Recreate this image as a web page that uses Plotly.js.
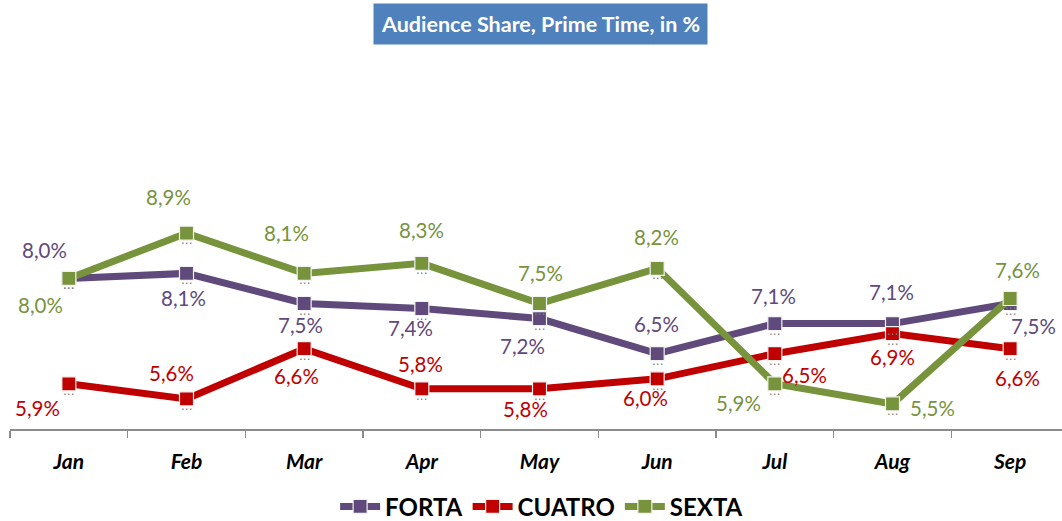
<!DOCTYPE html>
<html>
<head>
<meta charset="utf-8">
<script src="https://cdn.plot.ly/plotly-3.0.1.min.js"></script>
<style>
html,body{margin:0;padding:0;overflow:hidden;background:#fff;}
#chart{width:1069px;height:521px;}
</style>
</head>
<body>
<div id="chart"></div>
<script>
// ---- data ----
const months = ['Jan','Feb','Mar','Apr','May','Jun','Jul','Aug','Sep'];
const seriesNames = ['FORTA','CUATRO','SEXTA'];
const forta  = [8.0, 8.1, 7.5, 7.4, 7.2, 6.5, 7.1, 7.1, 7.5];
const cuatro = [5.9, 5.6, 6.6, 5.8, 5.8, 6.0, 6.5, 6.9, 6.6];
const sexta  = [8.0, 8.9, 8.1, 8.3, 7.5, 8.2, 5.9, 5.5, 7.6];
const chartTitle = 'Audience Share, Prime Time, in %';

// ---- styling / label placement (pixel offsets from each point) ----
const colors = ['#604A7B', '#C00000', '#77933C'];
const labelDx = [
  [-24, -3, -4, -11, -17, -1, -1, -1, 23],
  [-31, -15, -8, -1, -14, -12, 30, 0, 7],
  [-28, -18, -18, 0, 1, -1, -36, 40, 7]
];
const labelDy = [ // positive = downwards on screen
  [-28, 25, 21, 19, 27, -30, -28, -32, 22],
  [24, -26, 27, -25, 20, 19, 21, 23, 29],
  [27, -36, -40, -33, -31, -31, 19, 4, -28]
];

const allSeries = [forta, cuatro, sexta];
const fmt = v => v.toFixed(1).replace('.', ',') + '%';

const traces = allSeries.map((vals, s) => ({
  type: 'scatter',
  mode: 'lines+markers',
  name: seriesNames[s],
  x: months,
  y: vals,
  line: {color: colors[s], width: 7},
  marker: {symbol: 'square', size: 14, color: colors[s], line: {color: '#f2f2f2', width: 1.2}},
  hoverinfo: 'skip'
}));

const annotations = [];
allSeries.forEach((vals, s) => {
  vals.forEach((v, i) => {
    annotations.push({
      x: months[i], y: v, xref: 'x', yref: 'y',
      text: '...', showarrow: false,
      font: {family: 'DejaVu Sans, sans-serif', size: 12, color: '#7f7f7f'},
      xanchor: 'center', yanchor: 'middle', yshift: -7
    });
  });
});
allSeries.forEach((vals, s) => {
  vals.forEach((v, i) => {
    annotations.push({
      x: months[i], y: v, xref: 'x', yref: 'y',
      text: fmt(v), showarrow: false,
      font: {family: 'Lato, sans-serif', size: 20.5, color: colors[s]},
      xanchor: 'center', yanchor: 'middle',
      xshift: labelDx[s][i], yshift: -labelDy[s][i]
    });
  });
});
annotations.push({
  xref: 'paper', yref: 'paper', x: 0.501, y: 1.612,
  xanchor: 'center', yanchor: 'middle', showarrow: false,
  text: chartTitle,
  font: {family: 'Lato, sans-serif', size: 21.5, color: '#ffffff', weight: 'bold'},
  bgcolor: '#4F81BD', borderpad: 7
});

const layout = {
  width: 1069, height: 521,
  margin: {l: 10, r: 0, t: 178, b: 92, pad: 0, autoexpand: false},
  paper_bgcolor: '#ffffff', plot_bgcolor: '#ffffff',
  showlegend: true,
  legend: {
    orientation: 'h', x: 0.502, xanchor: 'center', y: -0.31, yanchor: 'middle',
    font: {family: 'Lato, sans-serif', size: 24, color: '#000', weight: 'bold'},
    itemwidth: 40, traceorder: 'normal'
  },
  xaxis: {
    type: 'category', range: [-0.5, 8.5],
    showline: true, linecolor: '#8c8c8c', linewidth: 1.5,
    ticks: 'outside', tickson: 'boundaries', ticklen: 7, tickcolor: '#8c8c8c', tickwidth: 1.5,
    showgrid: false, zeroline: false, ticklabelstandoff: 13,
    tickfont: {family: 'Lato, sans-serif', size: 21, color: '#000', weight: 'bold', style: 'italic'}
  },
  yaxis: {
    range: [5, 10], visible: false, showgrid: false, zeroline: false
  },
  annotations: annotations
};

Plotly.newPlot('chart', traces, layout, {displayModeBar: false, staticPlot: true});
</script>
</body>
</html>
